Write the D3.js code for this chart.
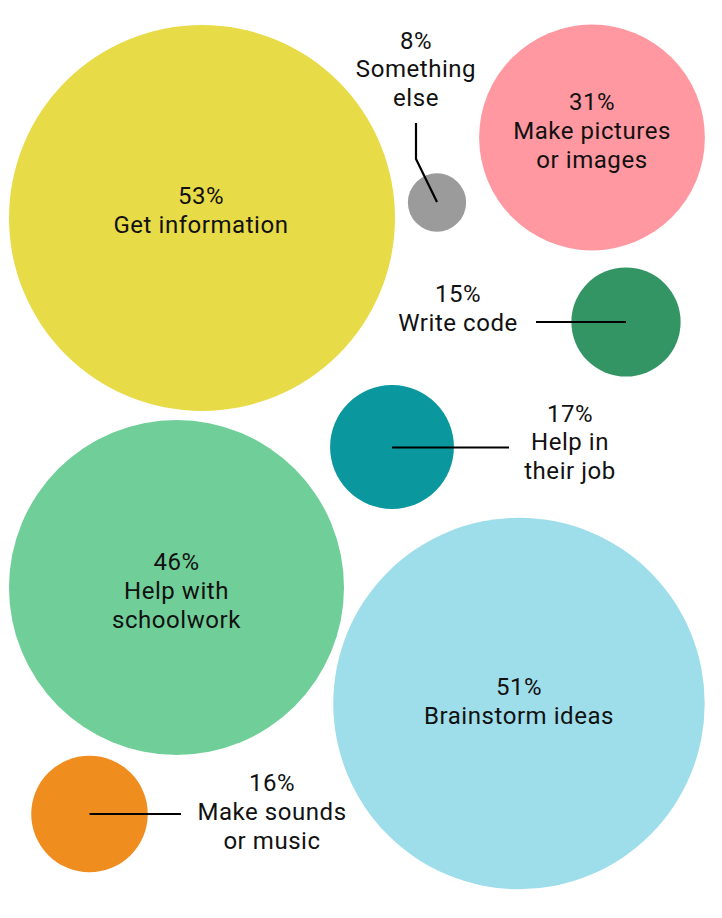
<!DOCTYPE html>
<html>
<head>
<meta charset="utf-8">
<script src="https://cdn.jsdelivr.net/npm/d3@7"></script>
<style>
  html, body { margin: 0; padding: 0; background: #ffffff; }
  svg { display: block; }
  text { font-family: Roboto, "Noto Sans", sans-serif; fill: #111111; }
</style>
</head>
<body>
<svg id="chart" width="722" height="918"></svg>
<script>
// ---- Data ----
const categories = [
  "Get information", "Brainstorm ideas", "Help with schoolwork",
  "Make pictures or images", "Help in their job", "Make sounds or music",
  "Write code", "Something else"
];
const values = [53, 51, 46, 31, 17, 16, 15, 8];
const labelLines = [
  ["Get information"], ["Brainstorm ideas"], ["Help with", "schoolwork"],
  ["Make pictures", "or images"], ["Help in", "their job"], ["Make sounds", "or music"],
  ["Write code"], ["Something", "else"]
];
const colors = ["#E8DB48", "#9EDEEA", "#70CF98", "#FF98A0", "#0A979D", "#F08D1F", "#339563", "#9B9B9B"];

// ---- Layout (positions only) ----
const centers = [
  [202, 218], [519, 703.5], [176.5, 587.5],
  [592, 137.5], [392, 447], [89.5, 814],
  [626, 322], [437, 202.5]
];
// label anchor: x, baseline of first line
const labelPos = [
  [201, 204], [519, 695], [176.5, 570],
  [592, 110], [570, 421.5], [272, 791],
  [458, 302], [416, 48.5]
];
// leader lines (null = label inside)
const leaders = [
  null, null, null, null,
  [[392, 447.5], [509, 447.5]],
  [[89.5, 814], [181, 814]],
  [[536, 322], [626, 322]],
  [[416, 123], [416, 159], [437, 202]]
];

const r = d3.scaleLinear().domain([0, 53]).range([0, 193]);
const svg = d3.select("#chart");

const data = categories.map((c, i) => ({
  name: c, value: values[i], lines: labelLines[i], color: colors[i],
  cx: centers[i][0], cy: centers[i][1],
  lx: labelPos[i][0], ly: labelPos[i][1], leader: leaders[i]
}));

svg.append("g").selectAll("circle").data(data).join("circle")
  .attr("cx", d => d.cx).attr("cy", d => d.cy)
  .attr("r", d => r(d.value))
  .attr("fill", d => d.color);

const line = d3.line();
svg.append("g").selectAll("path").data(data.filter(d => d.leader)).join("path")
  .attr("d", d => line(d.leader))
  .attr("fill", "none").attr("stroke", "#000").attr("stroke-width", 2.2);

const lh = 28.8;
const labels = svg.append("g").selectAll("text").data(data).join("text")
  .attr("text-anchor", "middle")
  .attr("font-size", 24)
  .attr("letter-spacing", "0.55px");
labels.each(function(d) {
  const t = d3.select(this);
  const all = [d.value + "%"].concat(d.lines);
  all.forEach((s, j) => {
    t.append("tspan").attr("x", d.lx).attr("y", d.ly + j * lh).text(s);
  });
});
</script>
</body>
</html>
